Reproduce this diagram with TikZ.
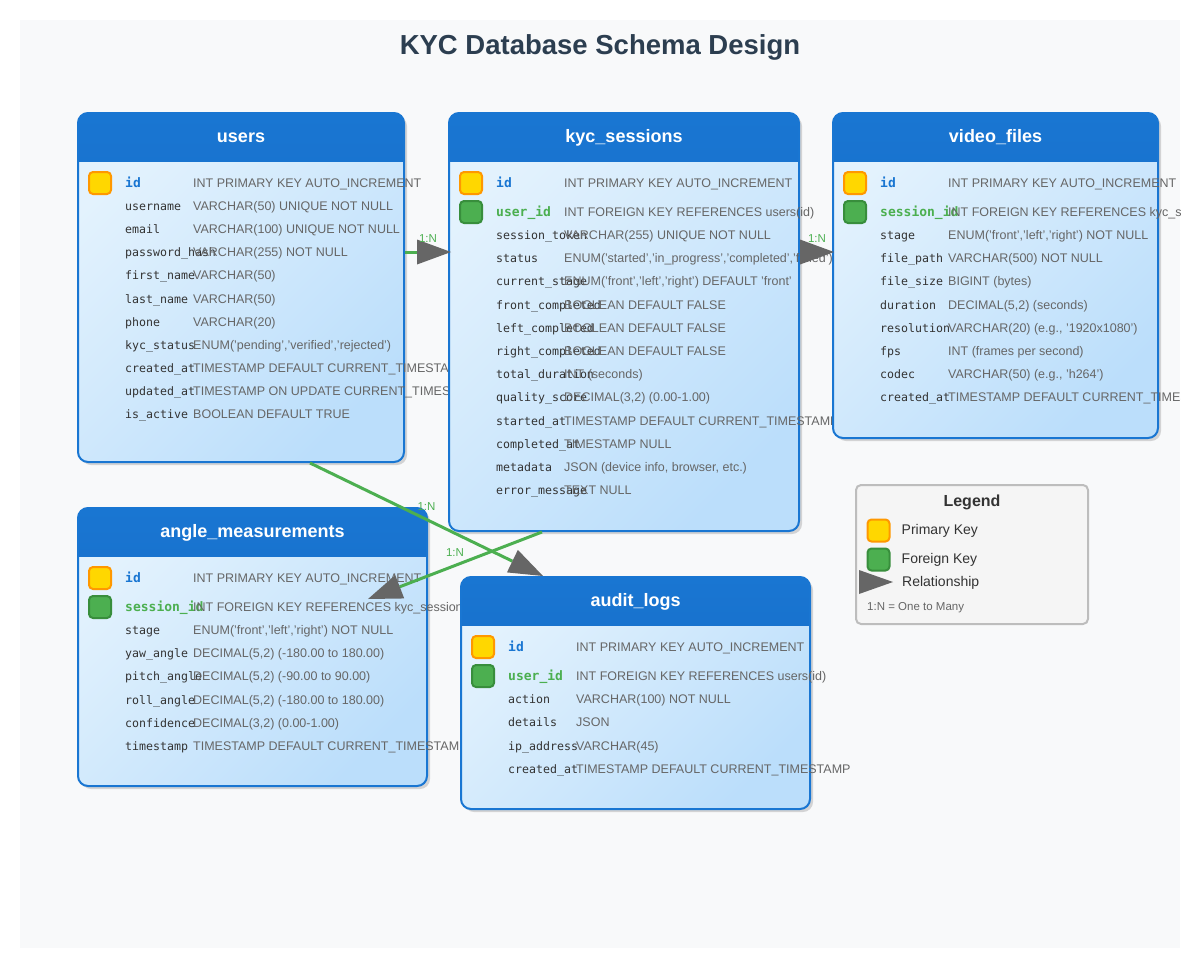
\documentclass[tikz,border=0pt]{standalone}
\usepackage{fontspec}
\setmainfont{Liberation Sans}
\setmonofont{DejaVu Sans Mono}
\usetikzlibrary{arrows.meta,positioning,shadows,calc}
\definecolor{bgpage}{HTML}{F8F9FA}
\definecolor{titlecol}{HTML}{2C3E50}
\definecolor{hdtop}{HTML}{1976D2}
\definecolor{hdbot}{HTML}{1565C0}
\definecolor{bodytop}{HTML}{E3F2FD}
\definecolor{bodybot}{HTML}{BBDEFB}
\definecolor{pkfill}{HTML}{FFD700}
\definecolor{pkline}{HTML}{FF9800}
\definecolor{fkfill}{HTML}{4CAF50}
\definecolor{fkline}{HTML}{388E3C}
\definecolor{txtdark}{HTML}{333333}
\definecolor{txtgray}{HTML}{666666}
\definecolor{arrowgray}{HTML}{666666}
\definecolor{linegreen}{HTML}{4CAF50}
\definecolor{legfill}{HTML}{F5F5F5}
\definecolor{legline}{HTML}{BDBDBD}

\begin{document}
\begin{tikzpicture}[x=1pt,y=-1pt,
  dbtable/.style={anchor=north west,inner sep=0pt,draw=hdtop,line width=2pt,rounded corners=10pt,
    top color=bodytop,bottom color=bodybot,shading angle=45,
    drop shadow={shadow xshift=3pt,shadow yshift=-3pt,opacity=.15,fill=black},
    path picture={\shade[sharp corners,top color=hdtop,bottom color=hdbot]
      (path picture bounding box.north west) rectangle ([yshift=-48pt]path picture bounding box.north east);}},
  headtext/.style={text=white,font=\fontsize{18pt}{21pt}\selectfont\bfseries},
  colname/.style={anchor=base west,inner sep=0pt,text=txtdark,font=\fontsize{11.6pt}{14pt}\ttfamily},
  keyname/.style={colname,font=\fontsize{13pt}{15pt}\ttfamily\bfseries},
  coltype/.style={anchor=base west,inner sep=0pt,text=txtgray,font=\fontsize{12.5pt}{15pt}\selectfont},
  pkbox/.style={draw=pkline,fill=pkfill,line width=2pt,rounded corners=4pt,minimum size=22pt,inner sep=0pt},
  fkbox/.style={pkbox,draw=fkline,fill=fkfill}]

\tikzset{rel/.style={draw=linegreen,line width=3pt,-{Triangle[length=34pt,width=25pt,line width=0pt,color=arrowgray]}}}
\tikzset{card/.style={text=linegreen,font=\fontsize{11.5pt}{13pt}\selectfont,yshift=13pt}}
\tikzset{legendbox/.style={anchor=north west,draw=legline,fill=legfill,line width=2pt,rounded corners=5pt}}
\tikzset{legtext/.style={anchor=west,inner sep=0pt,text=txtdark,font=\fontsize{14pt}{16pt}\selectfont}}

\useasboundingbox (0,0) rectangle (1200,972);
\fill[bgpage] (20,20) rectangle (1180,948);
\clip (20,20) rectangle (1180,948);

\node[text=titlecol,font=\fontsize{27.5pt}{32pt}\selectfont\bfseries] (title) at (600,47) {KYC Database Schema Design};

% users
\node[dbtable,minimum width=326pt,minimum height=349pt] (users) at (77,112) {};
\node[headtext] (users-head) at ([yshift=-25.5pt]users.north) {users};
\node[pkbox] (users-pk) at ($(users.north west)+(23,71)$) {};
\node[keyname,text=hdtop] (users-id) at ($(users.north west)+(48,75.5)$) {id};
\node[coltype] (users-idt) at ($(users.north west)+(116,75.5)$) {INT PRIMARY KEY AUTO\_INCREMENT};
\foreach \col/\typ [count=\i from 0] in {username/{VARCHAR(50) UNIQUE NOT NULL},
    email/{VARCHAR(100) UNIQUE NOT NULL}, password\_hash/{VARCHAR(255) NOT NULL},
    first\_name/{VARCHAR(50)}, last\_name/{VARCHAR(50)}, phone/{VARCHAR(20)},
    kyc\_status/{ENUM('pending','verified','rejected')},
    created\_at/{TIMESTAMP DEFAULT CURRENT\_TIMESTAMP},
    updated\_at/{TIMESTAMP ON UPDATE CURRENT\_TIMESTAMP},
    is\_active/{BOOLEAN DEFAULT TRUE}}{
  \node[colname] (users-n\i) at ($(users.north west)+(48,{98.5+23.15*\i})$) {\col};
  \node[coltype] (users-t\i) at ($(users.north west)+(116,{98.5+23.15*\i})$) {\typ};
}

% kyc_sessions
\node[dbtable,minimum width=350pt,minimum height=418pt] (kyc) at (448,112) {};
\node[headtext] (kyc-head) at ([yshift=-25.5pt]kyc.north) {kyc\_sessions};
\node[pkbox] (kyc-pk) at ($(kyc.north west)+(23,71)$) {};
\node[fkbox] (kyc-fk) at ($(kyc.north west)+(23,100)$) {};
\node[keyname,text=hdtop] (kyc-id) at ($(kyc.north west)+(48,75.5)$) {id};
\node[coltype] (kyc-idt) at ($(kyc.north west)+(116,75.5)$) {INT PRIMARY KEY AUTO\_INCREMENT};
\node[keyname,text=fkfill] (kyc-fkn) at ($(kyc.north west)+(48,104.5)$) {user\_id};
\node[coltype] (kyc-fkt) at ($(kyc.north west)+(116,104.5)$) {INT FOREIGN KEY REFERENCES users(id)};
\foreach \col/\typ [count=\i from 0] in {session\_token/{VARCHAR(255) UNIQUE NOT NULL},
    status/{ENUM('started','in\_progress','completed','failed')},
    current\_stage/{ENUM('front','left','right') DEFAULT 'front'},
    front\_completed/{BOOLEAN DEFAULT FALSE}, left\_completed/{BOOLEAN DEFAULT FALSE},
    right\_completed/{BOOLEAN DEFAULT FALSE}, total\_duration/{INT (seconds)},
    quality\_score/{DECIMAL(3,2) (0.00-1.00)},
    started\_at/{TIMESTAMP DEFAULT CURRENT\_TIMESTAMP}, completed\_at/{TIMESTAMP NULL},
    metadata/{JSON (device info, browser, etc.)}, error\_message/{TEXT NULL}}{
  \node[colname] (kyc-n\i) at ($(kyc.north west)+(48,{127.5+23.2*\i})$) {\col};
  \node[coltype] (kyc-t\i) at ($(kyc.north west)+(116,{127.5+23.2*\i})$) {\typ};
}

% video_files
\node[dbtable,minimum width=325pt,minimum height=325pt] (video) at (832,112) {};
\node[headtext] (video-head) at ([yshift=-25.5pt]video.north) {video\_files};
\node[pkbox] (video-pk) at ($(video.north west)+(23,71)$) {};
\node[fkbox] (video-fk) at ($(video.north west)+(23,100)$) {};
\node[keyname,text=hdtop] (video-id) at ($(video.north west)+(48,75.5)$) {id};
\node[coltype] (video-idt) at ($(video.north west)+(116,75.5)$) {INT PRIMARY KEY AUTO\_INCREMENT};
\node[keyname,text=fkfill] (video-fkn) at ($(video.north west)+(48,104.5)$) {session\_id};
\node[coltype] (video-fkt) at ($(video.north west)+(116,104.5)$) {INT FOREIGN KEY REFERENCES kyc\_sessions(id)};
\foreach \col/\typ [count=\i from 0] in {stage/{ENUM('front','left','right') NOT NULL},
    file\_path/{VARCHAR(500) NOT NULL}, file\_size/{BIGINT (bytes)},
    duration/{DECIMAL(5,2) (seconds)}, resolution/{VARCHAR(20) (e.g., '1920x1080')},
    fps/{INT (frames per second)}, codec/{VARCHAR(50) (e.g., 'h264')},
    created\_at/{TIMESTAMP DEFAULT CURRENT\_TIMESTAMP}}{
  \node[colname] (video-n\i) at ($(video.north west)+(48,{127.5+23.2*\i})$) {\col};
  \node[coltype] (video-t\i) at ($(video.north west)+(116,{127.5+23.2*\i})$) {\typ};
}

% angle_measurements
\node[dbtable,minimum width=349pt,minimum height=278pt] (angle) at (77,507) {};
\node[headtext] (angle-head) at ([yshift=-25.5pt]angle.north) {angle\_measurements};
\node[pkbox] (angle-pk) at ($(angle.north west)+(23,71)$) {};
\node[fkbox] (angle-fk) at ($(angle.north west)+(23,100)$) {};
\node[keyname,text=hdtop] (angle-id) at ($(angle.north west)+(48,75.5)$) {id};
\node[coltype] (angle-idt) at ($(angle.north west)+(116,75.5)$) {INT PRIMARY KEY AUTO\_INCREMENT};
\node[keyname,text=fkfill] (angle-fkn) at ($(angle.north west)+(48,104.5)$) {session\_id};
\node[coltype] (angle-fkt) at ($(angle.north west)+(116,104.5)$) {INT FOREIGN KEY REFERENCES kyc\_sessions(id)};
\foreach \col/\typ [count=\i from 0] in {stage/{ENUM('front','left','right') NOT NULL},
    yaw\_angle/{DECIMAL(5,2) (-180.00 to 180.00)}, pitch\_angle/{DECIMAL(5,2) (-90.00 to 90.00)},
    roll\_angle/{DECIMAL(5,2) (-180.00 to 180.00)}, confidence/{DECIMAL(3,2) (0.00-1.00)},
    timestamp/{TIMESTAMP DEFAULT CURRENT\_TIMESTAMP}}{
  \node[colname] (angle-n\i) at ($(angle.north west)+(48,{127.5+23.2*\i})$) {\col};
  \node[coltype] (angle-t\i) at ($(angle.north west)+(116,{127.5+23.2*\i})$) {\typ};
}

% audit_logs
\node[dbtable,minimum width=349pt,minimum height=232pt] (audit) at (460,576) {};
\node[headtext] (audit-head) at ([yshift=-25.5pt]audit.north) {audit\_logs};
\node[pkbox] (audit-pk) at ($(audit.north west)+(23,71)$) {};
\node[fkbox] (audit-fk) at ($(audit.north west)+(23,100)$) {};
\node[keyname,text=hdtop] (audit-id) at ($(audit.north west)+(48,75.5)$) {id};
\node[coltype] (audit-idt) at ($(audit.north west)+(116,75.5)$) {INT PRIMARY KEY AUTO\_INCREMENT};
\node[keyname,text=fkfill] (audit-fkn) at ($(audit.north west)+(48,104.5)$) {user\_id};
\node[coltype] (audit-fkt) at ($(audit.north west)+(116,104.5)$) {INT FOREIGN KEY REFERENCES users(id)};
\foreach \col/\typ [count=\i from 0] in {action/{VARCHAR(100) NOT NULL}, details/{JSON},
    ip\_address/{VARCHAR(45)}, created\_at/{TIMESTAMP DEFAULT CURRENT\_TIMESTAMP}}{
  \node[colname] (audit-n\i) at ($(audit.north west)+(48,{127.5+23.3*\i})$) {\col};
  \node[coltype] (audit-t\i) at ($(audit.north west)+(116,{127.5+23.3*\i})$) {\typ};
}

% legend
\node[legendbox,minimum width=232pt,minimum height=139pt] (legend) at (855,484) {};
\node[text=txtdark,font=\fontsize{16pt}{18pt}\selectfont\bfseries] (leg-title) at ([yshift=-18pt]legend.north) {Legend};
\node[pkbox] (leg-pk) at ($(legend.north west)+(23.5,46.5)$) {};
\node[fkbox] (leg-fk) [below=5pt of leg-pk] {};
\node[legtext] (leg-pkt) [right=11pt of leg-pk] {Primary Key};
\node[legtext] (leg-fkt) [right=11pt of leg-fk] {Foreign Key};
\fill[arrowgray] ($(legend.north west)+(4,86)$) -- ++(34,12) -- ++(-34,12) -- cycle;
\node[legtext] (leg-rel) at ($(legend.north west)+(47,99)$) {Relationship};
\node[legtext,text=txtgray,font=\fontsize{11.5pt}{13pt}\selectfont] (leg-note) at ($(legend.north west)+(12,124)$) {1:N = One to Many};

\path (users.east |- 0,252) edge[rel] node[card] {1:N} ([xshift=3pt]kyc.west |- 0,252)
      (kyc.east |- 0,252)   edge[rel] node[card] {1:N} ([xshift=2pt]video.west |- 0,252)
      (users.south -| 310,0) edge[rel] node[card] {1:N} (audit.north -| 543,0)
      (kyc.south -| 542,0)   edge[rel] node[card] {1:N} ($(angle.north east)+(-60,92)$);
\end{tikzpicture}
\end{document}
